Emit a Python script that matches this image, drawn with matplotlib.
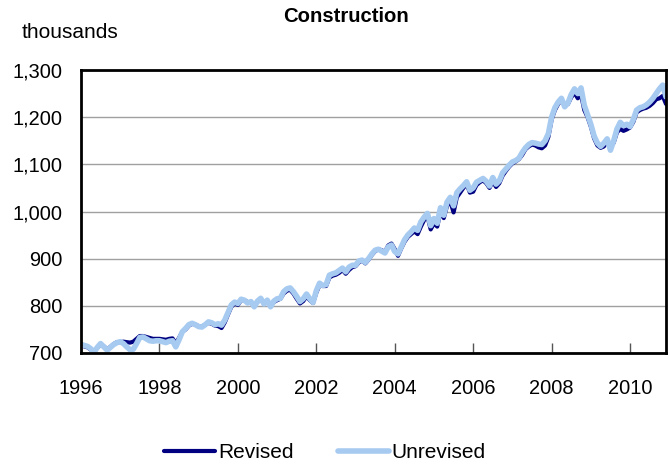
import numpy as np
import matplotlib
matplotlib.use("Agg")
from matplotlib import pyplot as plt

plt.rcParams['font.family'] = ['Liberation Sans', 'DejaVu Sans']

# monthly employment in construction, thousands, Jan 1996 - Dec 2010
unrevised = [
    718, 716, 714, 709, 702, 712, 720, 713, 706, 712, 718, 722,      # 1996
    724, 720, 713, 707, 708, 720, 733, 734, 730, 726, 725, 726,      # 1997
    726, 724, 722, 725, 726, 713, 728, 745, 752, 760, 763, 760,      # 1998
    756, 755, 760, 766, 764, 760, 762, 759, 770, 786, 802, 808,      # 1999
    805, 814, 812, 806, 809, 798, 810, 816, 804, 812, 798, 810,      # 2000
    815, 816, 830, 836, 838, 830, 820, 809, 815, 825, 815, 807,      # 2001
    832, 848, 843, 845, 865, 868, 870, 875, 880, 872, 882, 886,      # 2002
    886, 895, 897, 892, 900, 910, 918, 920, 916, 912, 925, 929,      # 2003
    915, 910, 925, 940, 950, 957, 965, 960, 978, 988, 996, 970,      # 2004
    985, 975, 1008, 992, 1020, 1030, 1012, 1040, 1048, 1055, 1063, 1045,  # 2005
    1050, 1062, 1066, 1070, 1064, 1054, 1072, 1058, 1065, 1082, 1090, 1098,  # 2006
    1105, 1108, 1113, 1125, 1135, 1142, 1146, 1145, 1143, 1142, 1150, 1165,  # 2007
    1200, 1220, 1232, 1240, 1222, 1230, 1248, 1260, 1250, 1262, 1225, 1205,  # 2008
    1185, 1160, 1145, 1138, 1145, 1154, 1130, 1150, 1175, 1189, 1182, 1185,  # 2009
    1180, 1195, 1215, 1220, 1222, 1226, 1232, 1240, 1250, 1260, 1268, 1243,  # 2010
]

revised = [
    716, 714, 712, 707, 703, 711, 718, 714, 708, 713, 719, 723,      # 1996
    723, 724, 723, 722, 724, 730, 736, 736, 734, 732, 730, 730,      # 1997
    730, 729, 728, 730, 731, 720, 732, 745, 750, 758, 762, 760,      # 1998
    757, 756, 760, 764, 762, 758, 757, 753, 765, 782, 798, 805,      # 1999
    802, 812, 812, 808, 806, 802, 808, 814, 806, 808, 802, 808,      # 2000
    812, 815, 826, 832, 834, 826, 815, 805, 810, 820, 812, 806,      # 2001
    828, 844, 842, 842, 860, 864, 866, 870, 876, 868, 876, 882,      # 2002
    884, 892, 896, 890, 898, 908, 916, 920, 918, 914, 928, 932,      # 2003
    920, 906, 922, 936, 946, 952, 958, 952, 968, 982, 990, 962,      # 2004
    975, 968, 1000, 986, 1012, 1022, 998, 1030, 1040, 1050, 1058, 1040,  # 2005
    1042, 1056, 1062, 1066, 1060, 1050, 1064, 1052, 1060, 1076, 1086, 1095,  # 2006
    1102, 1106, 1111, 1120, 1132, 1138, 1142, 1140, 1136, 1134, 1140, 1158,  # 2007
    1195, 1215, 1228, 1236, 1225, 1228, 1242, 1252, 1240, 1248, 1215, 1200,  # 2008
    1180, 1155, 1140, 1135, 1138, 1150, 1138, 1146, 1168, 1175, 1171, 1174,  # 2009
    1178, 1190, 1210, 1215, 1218, 1220, 1224, 1230, 1238, 1240, 1245, 1228,  # 2010
]

years = np.arange(1996, 2011, 2)
yticks = np.arange(700, 1301, 100)

t = 1996 + np.arange(len(revised)) / 12.0

fig = plt.figure(figsize=(6.7, 4.66), dpi=100)
ax = fig.add_axes([81 / 670, 113 / 466, 585 / 670, 283 / 466])

ax.plot(t, revised, color="#000080", lw=3, label="Revised", solid_capstyle="round")
ax.plot(t, unrevised, color="#a6caf0", lw=4, label="Unrevised", solid_capstyle="round")

ax.set_xlim(1996, 1996 + 179 / 12.0)
ax.set_ylim(700, 1300)
ax.set_yticks(yticks)
ax.set_yticklabels([f"{v:,}" for v in yticks], fontsize=14.4)
ax.set_xticks(years)
ax.set_xticklabels([str(y) for y in years], fontsize=14.4)
ax.tick_params(axis="y", length=0, pad=13.5)
ax.tick_params(axis="x", direction="in", length=7, width=1, pad=19, color="#555555")
ax.yaxis.grid(True, color="#a0a0a0", lw=1)
ax.set_axisbelow(True)
for s in ax.spines.values():
    s.set_linewidth(2)
    s.set_color("black")

fig.text(346 / 670, 1 - 17 / 466, "Construction", ha="center", va="center",
         fontsize=14.6, fontweight="bold")
fig.text(22 / 670, 1 - 32 / 466, "thousands", ha="left", va="center", fontsize=15)

fig.legend(loc="center", bbox_to_anchor=(325 / 670, 1 - 453 / 466), ncol=2,
           frameon=False, fontsize=15, handlelength=2.45, handletextpad=0.15,
           columnspacing=2.1)

fig.savefig("out.png", dpi=100)
